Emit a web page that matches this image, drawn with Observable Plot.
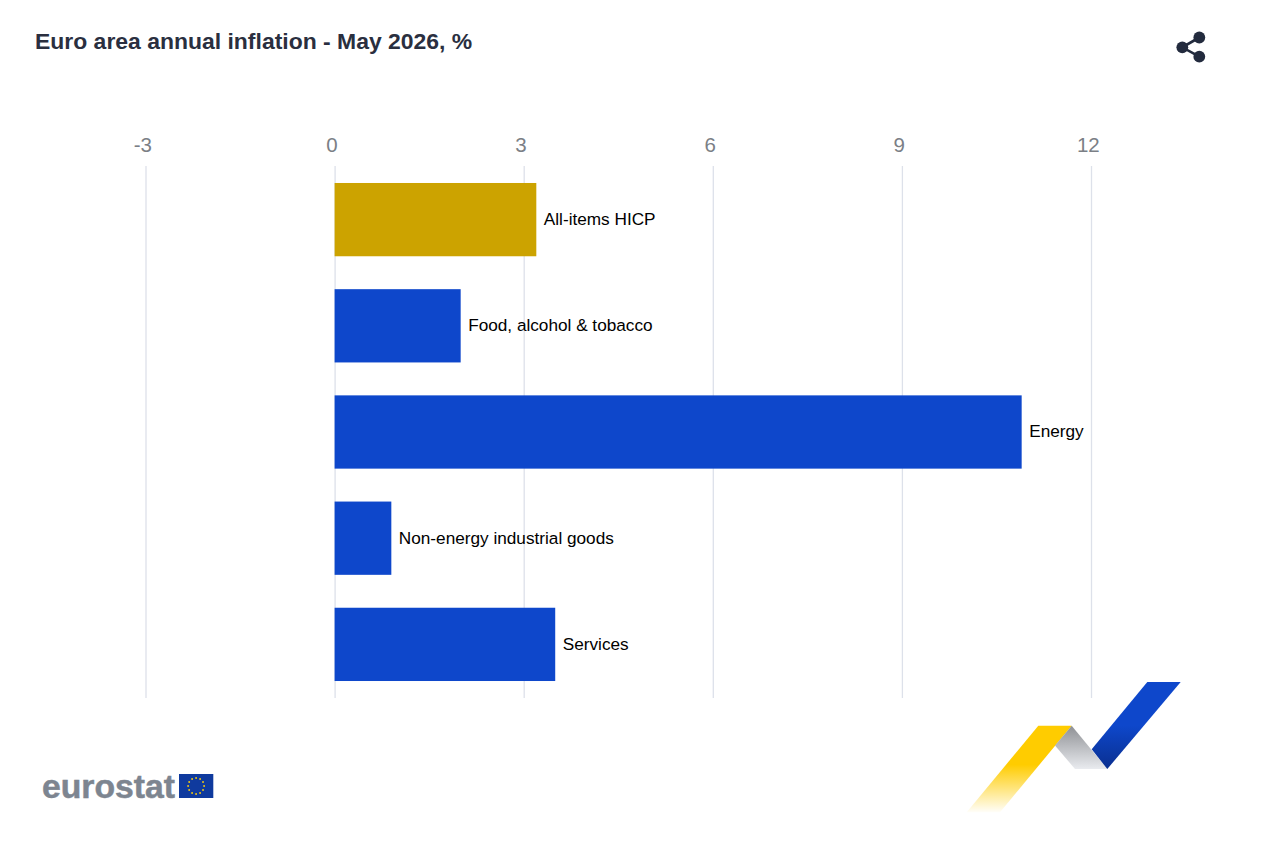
<!DOCTYPE html>
<html lang="en">
<head>
<meta charset="utf-8">
<title>Euro area annual inflation - May 2026, %</title>
<script src="https://cdn.jsdelivr.net/npm/d3@7"></script>
<script src="https://cdn.jsdelivr.net/npm/@observablehq/plot@0.6"></script>
<style>
  html, body { margin: 0; padding: 0; background: #fff; width: 1280px; height: 866px; overflow: hidden; }
  #chart { position: absolute; left: 0; top: 0; }
  #chart svg { display: block; }
  h1 { position: absolute; z-index: 2; left: 35px; top: 27px; margin: 0; font: bold 22.95px/28px "Liberation Sans", Arial, sans-serif; color: #2a2f3f; white-space: nowrap; }
  .deco { position: absolute; left: 0; top: 0; pointer-events: none; }
</style>
</head>
<body>
<h1>Euro area annual inflation - May 2026, %</h1>
<div id="chart"></div>
<svg class="deco" width="1280" height="866" viewBox="0 0 1280 866" xmlns="http://www.w3.org/2000/svg">
  <defs>
    <linearGradient id="gy" x1="0" y1="812" x2="0" y2="726" gradientUnits="userSpaceOnUse">
      <stop offset="0" stop-color="#ffcc00" stop-opacity="0.03"/>
      <stop offset="0.55" stop-color="#ffcc00"/>
      <stop offset="1" stop-color="#ffcc00"/>
    </linearGradient>
    <linearGradient id="gg" x1="0" y1="726" x2="0" y2="769" gradientUnits="userSpaceOnUse">
      <stop offset="0" stop-color="#8f9195"/>
      <stop offset="1" stop-color="#e9ebef"/>
    </linearGradient>
    <linearGradient id="gb" x1="0" y1="769" x2="0" y2="682" gradientUnits="userSpaceOnUse">
      <stop offset="0" stop-color="#0a2f8f"/>
      <stop offset="0.5" stop-color="#0e47cb"/>
      <stop offset="1" stop-color="#0e47cb"/>
    </linearGradient>
  </defs>
  <!-- share icon -->
  <g fill="#232b3e" stroke="#232b3e">
    <path d="M1199.3 37.5 L1182.3 47.3 L1199.3 56.7" fill="none" stroke-width="2.6"/>
    <circle cx="1199.3" cy="37.5" r="5.9" stroke="none"/>
    <circle cx="1182.3" cy="47.3" r="5.9" stroke="none"/>
    <circle cx="1199.3" cy="56.7" r="5.9" stroke="none"/>
  </g>
  <!-- ribbon -->
  <polygon points="1038.3,725.7 1071.7,725.7 1000,812.3 966.7,812.3" fill="url(#gy)"/>
  <polygon points="1071.7,725.7 1107.3,769 1075,769 1055,745.5" fill="url(#gg)"/>
  <polygon points="1147.3,682 1180.7,682 1107.3,769 1091.7,749.3" fill="url(#gb)"/>
  <!-- eurostat logo -->
  <text x="42" y="798" font-family="Liberation Sans, Arial, sans-serif" font-weight="bold" font-size="33" fill="#7d8590" stroke="#7d8590" stroke-width="0.5" textLength="133" lengthAdjust="spacingAndGlyphs">eurostat</text>
  <rect x="179" y="774" width="34.3" height="24" fill="#0f3a9e"/>
  <g id="stars" fill="#f2c811"></g>
</svg>
<script>
const categories = ["All-items HICP", "Food, alcohol & tobacco", "Energy", "Non-energy industrial goods", "Services"];
const values = [3.2, 2.0, 10.9, 0.9, 3.5];
const groups = ["headline", "component", "component", "component", "component"];
const xTicks = [-3, 0, 3, 6, 9, 12];

const rows = categories.map((name, i) => ({name, value: values[i], group: groups[i]}));

const plot = Plot.plot({
  width: 1280,
  height: 866,
  marginTop: 166,
  marginBottom: 168,
  marginLeft: 145.5,
  marginRight: 189,
  style: {background: "#fff", fontFamily: "Liberation Sans, Arial, sans-serif"},
  x: {domain: [-3, 12]},
  y: {domain: categories, axis: null, paddingInner: 0.31, paddingOuter: 0.16, round: false},
  color: {domain: ["headline", "component"], range: ["#cca300", "#0e47cb"]},
  marks: [
    Plot.gridX(xTicks, {stroke: "#dde1ea", strokeOpacity: 1, strokeWidth: 1.3}),
    Plot.axisX(xTicks, {
      anchor: "top",
      label: null,
      tickSize: 0,
      tickPadding: 15,
      fontSize: 20.5,
      dx: -3.2,
      color: "#7b7f86",
      tickFormat: d => String(d)
    }),
    Plot.barX(rows, {x: "value", y: "name", fill: "group"}),
    Plot.text(rows, {
      x: "value",
      y: "name",
      text: "name",
      textAnchor: "start",
      dx: 7,
      dy: -0.7,
      fontSize: 17.2,
      fill: "#000"
    })
  ]
});
document.getElementById("chart").appendChild(plot);

const stars = document.getElementById("stars");
for (let i = 0; i < 12; i++) {
  const a = i * Math.PI / 6;
  const c = document.createElementNS("http://www.w3.org/2000/svg", "circle");
  c.setAttribute("cx", 196.1 + 8 * Math.sin(a));
  c.setAttribute("cy", 786 - 8 * Math.cos(a));
  c.setAttribute("r", 0.95);
  stars.appendChild(c);
}
</script>
</body>
</html>
